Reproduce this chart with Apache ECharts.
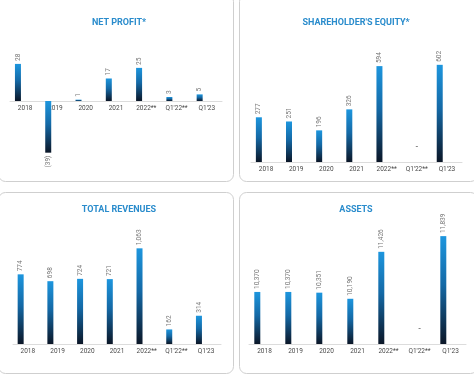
<!doctype html>
<html>
<head>
<meta charset="UTF-8">
<title>Financials</title>
<script src="https://cdn.jsdelivr.net/npm/echarts@6/dist/echarts.min.js"></script>
<style>
  html, body { margin: 0; padding: 0; background: #fff; }
  #main { width: 474px; height: 375px; }
</style>
</head>
<body>
<div id="main"></div>
<script>
var categories = ['2018', '2019', '2020', '2021', '2022**', "Q1'22**", "Q1'23"];
var netProfit = [28, -39, 1, 17, 25, 3, 5];
var equity = [277, 251, 196, 326, 594, null, 602];
var revenues = [774, 698, 724, 721, 1063, 162, 314];
var assets = [10370, 10370, 10351, 10190, 11426, null, 11839];
var titles = ['NET PROFIT*', "SHAREHOLDER'S EQUITY*", 'TOTAL REVENUES', 'ASSETS'];

var chart = echarts.init(document.getElementById('main'));

var barColor = new echarts.graphic.LinearGradient(0, 0, 0, 1, [
  { offset: 0, color: '#1d96de' },
  { offset: 0.45, color: '#1469a6' },
  { offset: 1, color: '#0b1627' }
]);

function fmt(v) {
  if (v < 0) return '(' + Math.abs(v) + ')';
  return String(v).replace(/\B(?=(\d{3})+(?!\d))/g, ',');
}

// grid boxes: left, width, top, height
var grids = [
  { left: 10, width: 212, top: 48, height: 106 },
  { left: 251, width: 211, top: 49, height: 113 },
  { left: 13, width: 208, top: 236, height: 108 },
  { left: 249, width: 217, top: 230, height: 114 }
];
var yRanges = [[-40, 40], [0, 700], [0, 1200], [9000, 12000]];
var allData = [netProfit, equity, revenues, assets];

var xAxes = [], yAxes = [], series = [];
for (var i = 0; i < 4; i++) {
  xAxes.push({
    type: 'category', gridIndex: i, data: categories,
    // net profit axis sits on the zero line (half way up its grid)
    offset: i === 0 ? -53 : 0,
    axisLine: { onZero: false, lineStyle: { color: '#dcdcdc' } },
    axisTick: { show: false },
    axisLabel: { color: '#4a4a4a', fontSize: 6.5, fontFamily: 'Roboto', margin: 4, interval: 0 }
  });
  yAxes.push({
    type: 'value', gridIndex: i, min: yRanges[i][0], max: yRanges[i][1],
    show: false, splitLine: { show: false }
  });
  series.push({
    type: 'bar', xAxisIndex: i, yAxisIndex: i,
    data: allData[i], barWidth: 6, barGap: '140%',
    itemStyle: { color: barColor },
    label: {
      show: true, position: 'top', rotate: 90, distance: 3,
      align: 'left', verticalAlign: 'middle',
      color: '#777', fontSize: 6.5, fontFamily: 'Roboto',
      formatter: function (p) { return fmt(p.value); }
    }
  });
  // empty partner series, pushes the bars left of the label centre
  series.push({
    type: 'bar', xAxisIndex: i, yAxisIndex: i, barWidth: 6,
    data: categories.map(function () { return null; }), silent: true
  });
  // negative value labels go below the bar
  if (i === 0) {
    series[series.length - 2].data = netProfit.map(function (v) {
      return v < 0 ? { value: v, label: { position: 'bottom', align: 'right' } } : v;
    });
  }
  // dash for missing quarter
  if (allData[i].indexOf(null) >= 0) {
    series.push({
      type: 'scatter', xAxisIndex: i, yAxisIndex: i, symbolSize: 0,
      data: [[categories[5], yRanges[i][0]]],
      label: { show: true, position: 'top', distance: 12, formatter: '-', color: '#555', fontSize: 8, fontWeight: 'bold' }
    });
  }
}

var panels = [
  [-2, -6, 235, 187], [239, -6, 238, 187],
  [-2, 192, 235, 181], [239, 192, 238, 181]
];
var titleCenters = [[119, 23], [356, 23], [119, 210], [356, 210]];
var graphic = [];
panels.forEach(function (p, i) {
  graphic.push({
    type: 'rect', z: -10, silent: true,
    shape: { x: p[0] + 0.5, y: p[1] + 0.5, width: p[2], height: p[3], r: 7 },
    style: { fill: '#fff', stroke: '#cfcfcf', lineWidth: 1 }
  });
  graphic.push({
    type: 'text', silent: true, x: titleCenters[i][0], y: titleCenters[i][1],
    style: {
      text: titles[i], fill: '#2a8ccc', font: 'bold 9px Roboto',
      align: 'center', verticalAlign: 'middle'
    }
  });
});

chart.setOption({
  animation: false,
  grid: grids,
  xAxis: xAxes,
  yAxis: yAxes,
  series: series,
  graphic: graphic
});
</script>
</body>
</html>
